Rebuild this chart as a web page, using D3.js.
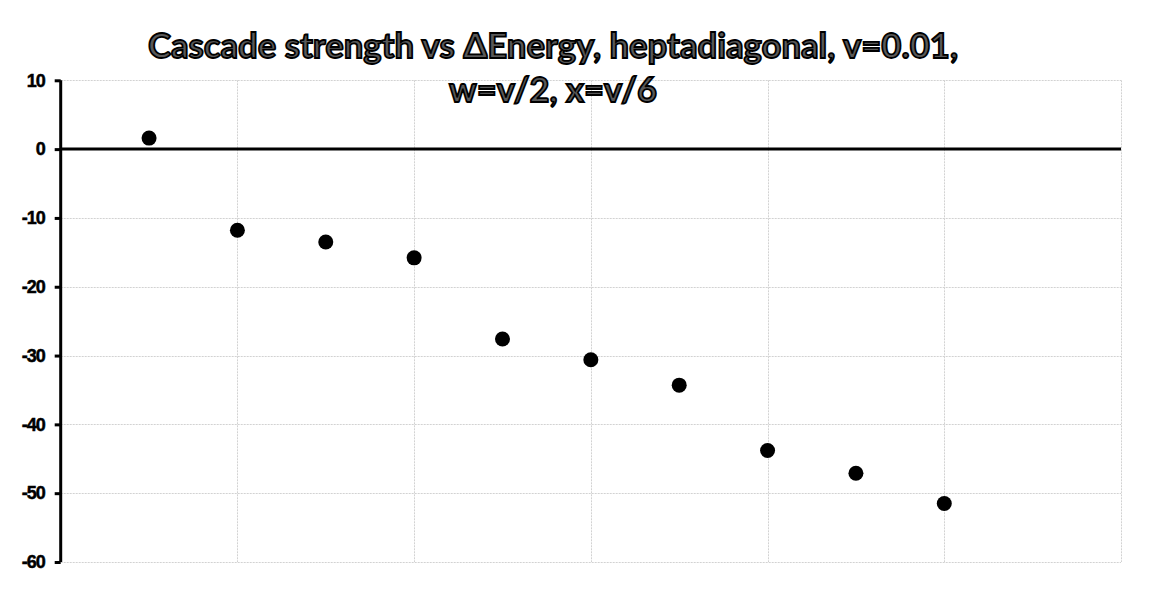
<!DOCTYPE html>
<html>
<head>
<meta charset="utf-8">
<script src="https://cdn.jsdelivr.net/npm/d3@7"></script>
<style>
  html, body { margin: 0; padding: 0; background: #fff; }
  svg { display: block; }
</style>
</head>
<body>
<svg id="chart" width="1150" height="595"></svg>
<script>
// ---- data ----
const titleLines = ["Cascade strength vs \u0394Energy, heptadiagonal, v=0.01,", "w=v/2, x=v/6"];
const xValues = [1, 2, 3, 4, 5, 6, 7, 8, 9, 10];
const yValues = [1.6, -11.8, -13.5, -15.8, -27.6, -30.6, -34.3, -43.8, -47.1, -51.5];
const yTicks = [10, 0, -10, -20, -30, -40, -50, -60];
const xGridTicks = [2, 4, 6, 8, 10, 12];

const svg = d3.select("#chart");
const x = d3.scaleLinear().domain([0, 12]).range([60.7, 1121]);
const y = d3.scaleLinear().domain([-60, 10]).range([562, 80.3]);

// gridlines
const grid = svg.append("g").attr("stroke", "#d2d2d2").attr("stroke-width", 1).attr("stroke-dasharray", "2,1").attr("fill", "none");
grid.selectAll("line.h").data(yTicks.filter(d => d !== 0)).join("line").attr("class", "h")
  .attr("x1", x(0)).attr("x2", x(12)).attr("y1", d => Math.round(y(d)) + 0.5).attr("y2", d => Math.round(y(d)) + 0.5);
grid.selectAll("line.v").data(xGridTicks).join("line").attr("class", "v")
  .attr("x1", d => Math.round(x(d)) + 0.5).attr("x2", d => Math.round(x(d)) + 0.5)
  .attr("y1", y(10)).attr("y2", y(-60));

// zero line (horizontal axis)
svg.append("line").attr("x1", x(0)).attr("x2", x(12)).attr("y1", y(0)).attr("y2", y(0))
  .attr("stroke", "#000").attr("stroke-width", 3);

// y axis
const yAxis = d3.axisLeft(y).tickValues(yTicks).tickSize(6).tickPadding(10).tickFormat(d => String(d));
const ga = svg.append("g").attr("transform", `translate(${x(0)},0)`).call(yAxis);
ga.select(".domain").attr("stroke", "#000").attr("stroke-width", 3).attr("d", `M0,${y(10)}V${y(-60)}`);
ga.selectAll(".tick line").attr("stroke", "#000").attr("stroke-width", 3);
ga.selectAll(".tick text")
  .attr("fill", "#000")
  .attr("stroke", "#000")
  .attr("stroke-width", 0.5)
  .style("font-family", "'Liberation Sans', Arial, sans-serif")
  .style("font-weight", "bold")
  .style("font-size", "18px")
  .style("letter-spacing", "-1px");

// points
svg.append("g").selectAll("circle").data(xValues.map((d, i) => [d, yValues[i]])).join("circle")
  .attr("cx", d => x(d[0])).attr("cy", d => y(d[1])).attr("r", 7.5).attr("fill", "#000");

// title
const titleWidths = [810, 208];
const baselines = [58, 102];
svg.append("g").selectAll("text").data(titleLines).join("text")
  .attr("x", 553).attr("y", (d, i) => baselines[i])
  .attr("text-anchor", "middle")
  .attr("textLength", (d, i) => titleWidths[i])
  .attr("lengthAdjust", "spacingAndGlyphs")
  .style("font-family", "Lato, 'Open Sans', sans-serif")
  .style("font-weight", "bold")
  .style("font-size", "35px")
  .attr("fill", "#595959")
  .attr("stroke", "#000")
  .attr("stroke-width", 1.8)
  .text(d => d);
</script>
</body>
</html>
